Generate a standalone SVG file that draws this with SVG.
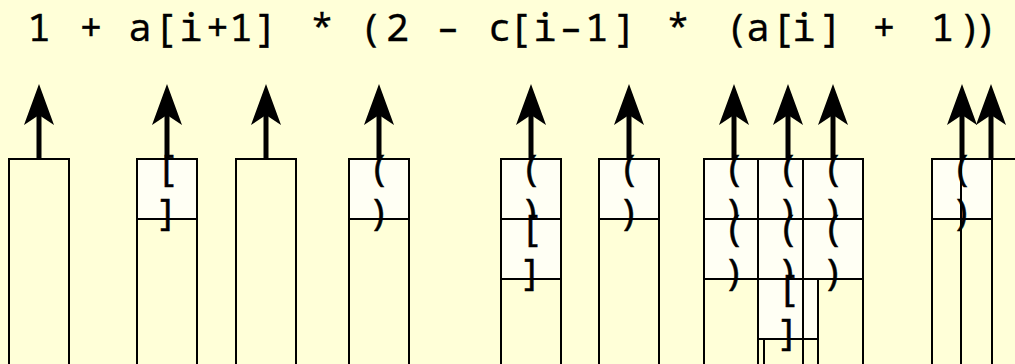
<svg xmlns="http://www.w3.org/2000/svg" width="1015" height="364" viewBox="0 0 1015 364">
  <style>
    .bg { fill: #ffffd8; }
    .expr { font-family: "Noto Sans Mono", "DejaVu Sans Mono", "Liberation Mono", monospace; font-size: 39px; fill: #000; stroke: #000; stroke-width: 0.3; text-anchor: middle; }
    .col { fill: none; stroke: #000; stroke-width: 2; }
    .box { fill: #fffff4; stroke: #000; stroke-width: 2; }
    .lbl { font-family: "Noto Sans Mono", "DejaVu Sans Mono", "Liberation Mono", monospace; font-size: 37px; fill: #000; stroke: #000; stroke-width: 0.5; text-anchor: middle; }
    .arrow { stroke: #000; stroke-width: 5; fill: none; marker-end: url(#head); }
  </style>
  <defs>
    <marker id="head" markerUnits="userSpaceOnUse" orient="auto" refX="0" refY="0" markerWidth="50" markerHeight="40" overflow="visible">
      <path d="M31,0 L-10,15 L0,0 L-10,-15 Z" fill="#000"/>
    </marker>
  </defs>

  <rect class="bg" x="0" y="0" width="1015" height="364"/>

  <!-- expression, one glyph per cell -->
  <text class="expr" y="41" x="39 65 91 115.5 140 165.5 191 217.5 241 266 294 322 347 371 397.5 423 448 474 500 520 545 571 596.7 625 651 678 707 737 758 783 804 831 857 884 913 942.5 970 986">1 + a[i+1] * (2 – c[i–1] * (a[i] + 1))</text>

  <!-- arrows pointing up from each column -->
  <g id="connectors">
    <line class="arrow" x1="39" y1="159" x2="39" y2="115"/>
    <line class="arrow" x1="167" y1="159" x2="167" y2="115"/>
    <line class="arrow" x1="266" y1="159" x2="266" y2="115"/>
    <line class="arrow" x1="379" y1="159" x2="379" y2="115"/>
    <line class="arrow" x1="531" y1="159" x2="531" y2="115"/>
    <line class="arrow" x1="629" y1="159" x2="629" y2="115"/>
    <line class="arrow" x1="734" y1="159" x2="734" y2="115"/>
    <line class="arrow" x1="788" y1="159" x2="788" y2="115"/>
    <line class="arrow" x1="833" y1="159" x2="833" y2="115"/>
    <line class="arrow" x1="962" y1="159" x2="962" y2="115"/>
    <line class="arrow" x1="991" y1="159" x2="991" y2="115"/>
  </g>

  <!-- stack columns; boxes are pushed brackets, top of stack first -->
  <g id="col1">
    <rect class="col" x="9" y="159" width="60" height="230"/>
  </g>
  <g id="col2">
    <rect class="col" x="137" y="159" width="60" height="230"/>
    <rect class="box" x="137" y="159" width="60" height="60"/>
    <text class="lbl" x="167" y="181">[</text>
    <text class="lbl" x="167" y="225">]</text>
  </g>
  <g id="col3">
    <rect class="col" x="236" y="159" width="60" height="230"/>
  </g>
  <g id="col4">
    <rect class="col" x="349" y="159" width="60" height="230"/>
    <rect class="box" x="349" y="159" width="60" height="60"/>
    <text class="lbl" x="379" y="181">(</text>
    <text class="lbl" x="379" y="225">)</text>
  </g>
  <g id="col5">
    <rect class="col" x="501" y="159" width="60" height="230"/>
    <rect class="box" x="501" y="159" width="60" height="60"/>
    <text class="lbl" x="531" y="181">(</text>
    <text class="lbl" x="531" y="225">)</text>
    <rect class="box" x="501" y="219" width="60" height="60"/>
    <text class="lbl" x="531" y="241">[</text>
    <text class="lbl" x="531" y="285">]</text>
  </g>
  <g id="col6">
    <rect class="col" x="599" y="159" width="60" height="230"/>
    <rect class="box" x="599" y="159" width="60" height="60"/>
    <text class="lbl" x="629" y="181">(</text>
    <text class="lbl" x="629" y="225">)</text>
  </g>
  <g id="col7">
    <rect class="col" x="704" y="159" width="60" height="230"/>
    <rect class="box" x="704" y="159" width="60" height="60"/>
    <text class="lbl" x="734" y="181">(</text>
    <text class="lbl" x="734" y="225">)</text>
    <rect class="box" x="704" y="219" width="60" height="60"/>
    <text class="lbl" x="734" y="241">(</text>
    <text class="lbl" x="734" y="285">)</text>
  </g>
  <g id="col8">
    <rect class="col" x="758" y="159" width="60" height="230"/>
    <rect class="box" x="758" y="159" width="60" height="60"/>
    <text class="lbl" x="788" y="181">(</text>
    <text class="lbl" x="788" y="225">)</text>
    <rect class="box" x="758" y="219" width="60" height="60"/>
    <text class="lbl" x="788" y="241">(</text>
    <text class="lbl" x="788" y="285">)</text>
    <rect class="box" x="758" y="279" width="60" height="60"/>
    <text class="lbl" x="788" y="301">[</text>
    <text class="lbl" x="788" y="345">]</text>
  </g>
  <g id="col9">
    <rect class="col" x="803" y="159" width="60" height="230"/>
    <rect class="box" x="803" y="159" width="60" height="60"/>
    <text class="lbl" x="833" y="181">(</text>
    <text class="lbl" x="833" y="225">)</text>
    <rect class="box" x="803" y="219" width="60" height="60"/>
    <text class="lbl" x="833" y="241">(</text>
    <text class="lbl" x="833" y="285">)</text>
  </g>
  <g id="col10">
    <rect class="col" x="932" y="159" width="60" height="230"/>
    <rect class="box" x="932" y="159" width="60" height="60"/>
    <text class="lbl" x="962" y="181">(</text>
    <text class="lbl" x="962" y="225">)</text>
  </g>
  <g id="col11">
    <rect class="col" x="961" y="159" width="60" height="230"/>
  </g>
</svg>
